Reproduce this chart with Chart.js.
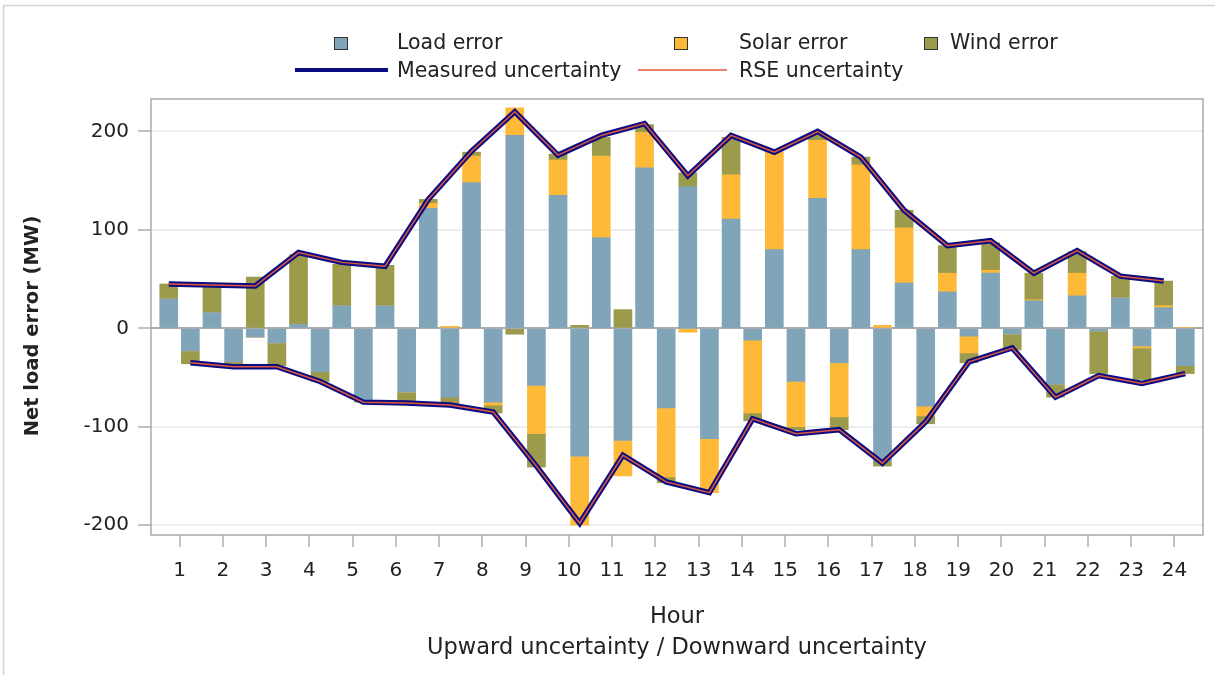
<!DOCTYPE html>
<html>
<head>
<meta charset="utf-8">
<script src="https://cdn.jsdelivr.net/npm/chart.js"></script>
<style>
  body { margin: 0; background: #fff; }
  #wrap { width: 1215px; height: 675px; position: relative; }
</style>
</head>
<body>
<div id="wrap"><canvas id="uncChart"></canvas></div>
<script>
// hours on the x axis
const hours = [1, 2, 3, 4, 5, 6, 7, 8, 9, 10, 11, 12, 13, 14, 15, 16, 17, 18, 19, 20, 21, 22, 23, 24];

// upward uncertainty bars (MW)
const loadUp  = [30, 16, -9, 4, 23, 23, 122, 148, 196, 135, 92, 163, 144, 111, 80, 132, 80, 46, 37, 56, 28, 33, 31, 21];
const solarUp = [0, 0, 0, 0, 0, 0, 5, 27, 28, 36, 83, 36, -4, 45, 99, 59, 86, 56, 19, 3, 1, 23, 0, 2];
const windUp  = [15, 26, 52, 71, 42, 41, 4, 4, -6, 6, 19, 8, 14, 38, 0, 6, 8, 18, 28, 28, 27, 22, 22, 25];

// downward uncertainty bars (MW)
const loadDown  = [-23, -34, -15, -44, -73, -65, -70, -75, -58, -130, -114, -81, -112, -12, -54, -35, -135, -79, -8, -6, -57, -3, -18, -38];
const solarDown = [0, 0, 0, 0, 0, 0, 2, -3, -49, -70, -36, -70, -55, -74, -46, -55, 3, -10, -17, 0, 0, 0, -2, 1];
const windDown  = [-13, -2, -23, -10, -2, -9, -8, -8, -34, 3, 19, -6, 0, -8, -3, -13, -5, -8, -10, -16, -13, -43, -32, -8];

// uncertainty lines
const measuredUp   = [45, 44, 43, 77, 67, 63, 131, 180, 220, 176, 196, 208, 155, 196, 179, 200, 174, 120, 84, 89, 56, 79, 53, 48];
const measuredDown = [-35, -39, -39, -54, -75, -76, -78, -85, -140, -198, -129, -156, -167, -92, -107, -103, -137, -95, -34, -20, -70, -48, -56, -46];
const rseUp   = [45, 44, 43, 77, 67, 63, 131, 180, 220, 176, 196, 208, 155, 196, 179, 200, 174, 120, 84, 89, 56, 79, 53, 48];
const rseDown = [-35, -39, -39, -54, -75, -76, -78, -85, -140, -198, -129, -156, -167, -92, -107, -103, -137, -95, -34, -20, -70, -48, -56, -46];

const yTicks = [-200, -100, 0, 100, 200];

const FONT = "'DejaVu Sans', sans-serif";
const TXT = '#222';
const colLoad = '#80a5b9', colSolar = '#ffb938', colWind = '#9b9b4b';
const colNavy = '#0c0c82', colRse = '#e0583c';

// up bar sits left of the hour tick, down bar right of it
function pairPoints(up, down) {
    let pts = [];
    hours.forEach(function (h, i) {
        pts.push({ x: h - 0.25, y: up[i] });
        pts.push({ x: h + 0.25, y: down[i] });
    });
    return pts;
}
function sidePoints(vals, shift) {
    return hours.map(function (h, i) { return { x: h + shift, y: vals[i] }; });
}
function lineSet(label, vals, shift, color, width, stack) {
    return {
        type: 'line', label: label, data: sidePoints(vals, shift), stack: stack,
        borderColor: color, borderWidth: width, pointRadius: 0, tension: 0,
        fill: false, borderJoinStyle: 'miter'
    };
}
function barSet(label, up, down, color) {
    return {
        type: 'bar', label: label, data: pairPoints(up, down), stack: 'err',
        backgroundColor: color, borderWidth: 0, barThickness: 18
    };
}

// frame, outer border, y title and the two-row legend
const frameAndLegend = {
    id: 'frameAndLegend',
    beforeDraw(chart) {
        const ctx = chart.ctx;
        ctx.save();
        ctx.fillStyle = '#fff';
        ctx.fillRect(0, 0, chart.width, chart.height);
        ctx.restore();
    },
    afterDraw(chart) {
        const ctx = chart.ctx, a = chart.chartArea;
        ctx.save();
        ctx.strokeStyle = '#a7abb0';
        ctx.lineWidth = 1.5;
        ctx.strokeRect(a.left, a.top, a.right - a.left, a.bottom - a.top);

        ctx.strokeStyle = '#d4d4d4';
        ctx.lineWidth = 1.5;
        ctx.beginPath();
        ctx.moveTo(3.5, chart.height + 5);
        ctx.lineTo(3.5, 5.5);
        ctx.lineTo(chart.width + 5, 5.5);
        ctx.stroke();

        // y axis title
        ctx.save();
        ctx.translate(33, 326);
        ctx.rotate(-Math.PI / 2);
        ctx.font = 'bold 19.5px ' + FONT;
        ctx.fillStyle = TXT;
        ctx.textAlign = 'center';
        ctx.textBaseline = 'middle';
        ctx.fillText('Net load error (MW)', 0, 0);
        ctx.restore();

        ctx.font = '20.5px ' + FONT;
        ctx.fillStyle = TXT;
        ctx.textBaseline = 'middle';
        ctx.textAlign = 'left';
        const row1 = 43, row2 = 70;
        [[341, colLoad, 'Load error', 397], [681, colSolar, 'Solar error', 739], [931, colWind, 'Wind error', 950]]
            .forEach(function (it) {
                ctx.fillStyle = it[1];
                ctx.fillRect(it[0] - 7, row1 - 6, 14, 13);
                ctx.strokeStyle = '#333';
                ctx.lineWidth = 1;
                ctx.strokeRect(it[0] - 7 + 0.5, row1 - 6 + 0.5, 13, 12);
                ctx.fillStyle = TXT;
                ctx.fillText(it[2], it[3], row1 + 1);
            });
        ctx.strokeStyle = colNavy;
        ctx.lineWidth = 4;
        ctx.beginPath(); ctx.moveTo(295, row2); ctx.lineTo(388, row2); ctx.stroke();
        ctx.fillText('Measured uncertainty', 397, row2 + 2);
        ctx.strokeStyle = colRse;
        ctx.lineWidth = 1.5;
        ctx.beginPath(); ctx.moveTo(638, row2); ctx.lineTo(727, row2); ctx.stroke();
        ctx.fillText('RSE uncertainty', 739, row2 + 2);
        ctx.restore();
    }
};

new Chart(document.getElementById('uncChart').getContext('2d'), {
    type: 'bar',
    data: {
        datasets: [
            lineSet('RSE uncertainty', rseUp, -0.25, colRse, 1.5, 'ru'),
            lineSet('RSE uncertainty', rseDown, 0.25, colRse, 1.5, 'rd'),
            lineSet('Measured uncertainty', measuredUp, -0.25, colNavy, 5.5, 'mu'),
            lineSet('Measured uncertainty', measuredDown, 0.25, colNavy, 5.5, 'md'),
            barSet('Load error', loadUp, loadDown, colLoad),
            barSet('Solar error', solarUp, solarDown, colSolar),
            barSet('Wind error', windUp, windDown, colWind)
        ]
    },
    options: {
        responsive: true,
        maintainAspectRatio: false,
        animation: false,
        layout: { padding: { top: 99, right: 12, left: 0, bottom: 0 } },
        plugins: { legend: { display: false }, tooltip: { enabled: false } },
        scales: {
            x: {
                type: 'linear', min: 0.34, max: 24.66, stacked: true, offset: false,
                afterBuildTicks: function (scale) { scale.ticks = hours.map(function (h) { return { value: h }; }); },
                afterFit: function (scale) { scale.height = 140; },
                grid: { drawOnChartArea: false, offset: false, tickLength: 12, tickColor: '#c2c2c2', lineWidth: 2 },
                border: { display: false },
                ticks: { color: TXT, font: { family: FONT, size: 20 }, padding: 12, maxRotation: 0, autoSkip: false,
                         callback: function (v) { return String(v); } },
                title: { display: true, text: ['Hour', 'Upward uncertainty / Downward uncertainty'], color: TXT,
                         font: { family: FONT, size: 22.5, lineHeight: 1.38 }, padding: { top: 0, bottom: 11 } }
            },
            y: {
                min: -210, max: 233, stacked: true,
                afterBuildTicks: function (scale) { scale.ticks = yTicks.map(function (v) { return { value: v }; }); },
                afterFit: function (scale) { scale.width = 151; },
                grid: {
                    color: function (c) { return c.tick && c.tick.value === 0 ? '#a9abae' : '#ededed'; },
                    lineWidth: 2, tickLength: 13, tickColor: '#c2c2c2'
                },
                border: { display: false },
                ticks: { color: TXT, font: { family: FONT, size: 20 }, padding: 9 },
                title: { display: false }
            }
        }
    },
    plugins: [frameAndLegend]
});
</script>
</body>
</html>
